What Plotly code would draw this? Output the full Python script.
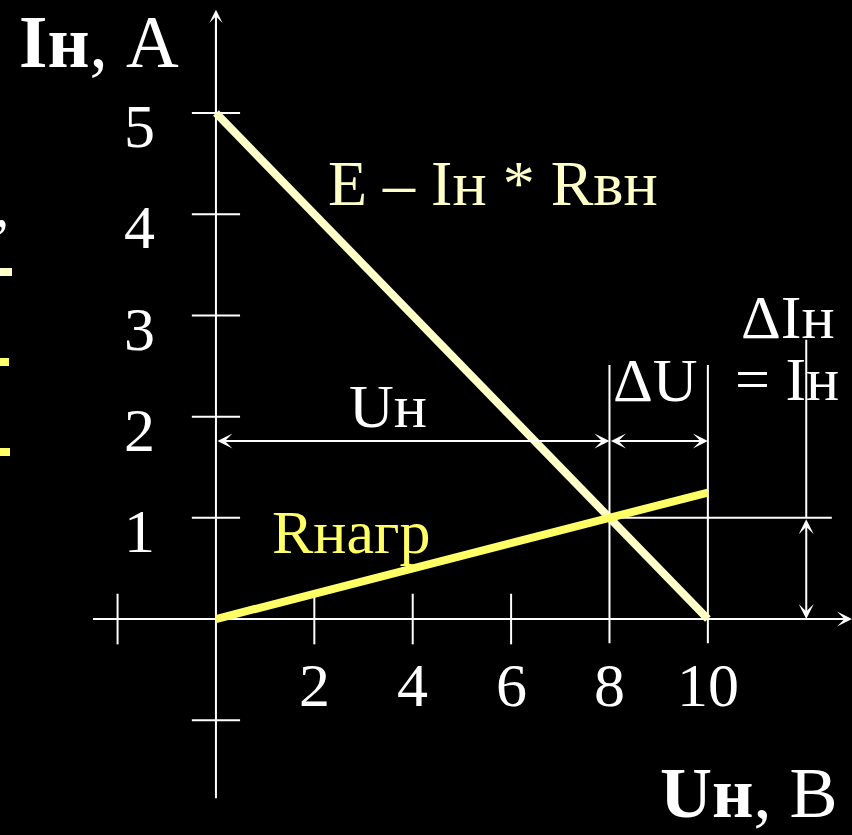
import plotly.graph_objects as go

# Load characteristics: source line E - I*R_int and load resistance line
u_source = [0, 10]
i_source = [5, 0]
u_load = [0, 10]
i_load = [0, 1.25]

# Operating point
u_op, i_op = 8, 1

x_ticks = [2, 4, 6, 8, 10]
y_ticks = [1, 2, 3, 4, 5]
x_minor = [-2]
y_minor = [-1]

W, H = 852, 835
X_RANGE = [-4.39, 12.93]
Y_RANGE = [-2.134, 6.117]

CREAM = "#FFFFC8"
YELLOW = "#FFFF66"
WHITE = "#FFFFFF"
FONT = "Liberation Serif"


def paper(px, py):
    return px / W, 1 - py / H


fig = go.Figure()
fig.add_trace(go.Scatter(x=u_source, y=i_source, mode="lines",
                         line=dict(color=CREAM, width=8), hoverinfo="skip"))
fig.add_trace(go.Scatter(x=u_load, y=i_load, mode="lines",
                         line=dict(color=YELLOW, width=8), hoverinfo="skip"))

shapes = []


def seg(x0, y0, x1, y1, w=2):
    shapes.append(dict(type="line", xref="x", yref="y", x0=x0, y0=y0, x1=x1, y1=y1,
                       line=dict(color=WHITE, width=w), layer="below"))


# axes
seg(0, -1.77, 0, 5.9)
seg(-2.5, 0, 12.8, 0)
# y ticks
for t in y_ticks + y_minor:
    seg(-0.49, t, 0.49, t)
# x ticks
for t in x_ticks[:3] + x_minor:
    seg(t, -0.25, t, 0.25)
# extension lines at the operating point and at the short-circuit voltage
seg(u_op, -0.24, u_op, 2.51)
seg(u_source[1], -0.24, u_source[1], 2.51)
seg(u_op, i_op, 12.52, i_op)
seg(12.0, i_op, 12.0, 2.76)

# left-edge fragments
for (x0, y0, x1, y1, c) in [(0, 268, 12, 276, CREAM), (0, 358, 9, 366, YELLOW),
                            (0, 448, 10, 456, YELLOW)]:
    a0, b0 = paper(x0, y0)
    a1, b1 = paper(x1, y1)
    shapes.append(dict(type="rect", xref="paper", yref="paper", x0=a0, y0=b1, x1=a1, y1=b0,
                       fillcolor=c, line=dict(width=0)))

annotations = []


def arrow(x, y, ax, ay, both=False, size=1.25):
    annotations.append(dict(x=x, y=y, ax=ax, ay=ay, xref="x", yref="y", axref="x", ayref="y",
                            text="", showarrow=True, arrowhead=3, startarrowhead=3,
                            arrowside="end+start" if both else "end",
                            arrowsize=size, startarrowsize=size, arrowwidth=2,
                            arrowcolor=WHITE, standoff=0, startstandoff=0))


arrow(0, 6.02, 0, 5.0, size=1.1)
arrow(12.93, 0, 11.5, 0)
arrow(u_op, 1.76, 0, 1.76, both=True)
arrow(u_source[1], 1.76, u_op, 1.76, both=True)
arrow(12.0, 0, 12.0, i_op, both=True)


def label(text, px, py, size, color=WHITE, yanchor="middle"):
    x, y = paper(px, py)
    annotations.append(dict(x=x, y=y, xref="paper", yref="paper", text=text, showarrow=False,
                            xanchor="center", yanchor=yanchor,
                            font=dict(family=FONT, size=size, color=color)))


for t in y_ticks:
    annotations.append(dict(x=-1.545, y=t - 0.13, xref="x", yref="y", text=str(t),
                            showarrow=False, xanchor="center", yanchor="middle",
                            font=dict(family=FONT, size=62, color=WHITE)))
for t in x_ticks:
    annotations.append(dict(x=t, y=-0.652, xref="x", yref="y", text=str(t),
                            showarrow=False, xanchor="center", yanchor="middle",
                            font=dict(family=FONT, size=62, color=WHITE)))

label("<b>Iн</b>, A", 99, 0, 73, yanchor="top")
label("<b>Uн</b>, B", 749, 835, 72, yanchor="bottom")
label("E – Iн * Rвн", 493, 183, 64, CREAM)
label("Rнагр", 351, 532, 62, YELLOW)
label("Uн", 388, 406, 62)
label("ΔU", 655, 380, 62)
label("ΔIн", 788, 317, 62)
label("= Iн", 787, 379, 62)
label(",", 2, 205, 62)

fig.update_layout(
    width=W, height=H, margin=dict(l=0, r=0, t=0, b=0),
    paper_bgcolor="black", plot_bgcolor="black", showlegend=False,
    xaxis=dict(range=X_RANGE, visible=False, fixedrange=True),
    yaxis=dict(range=Y_RANGE, visible=False, fixedrange=True),
    shapes=shapes, annotations=annotations,
)

fig.write_html("out.html")
